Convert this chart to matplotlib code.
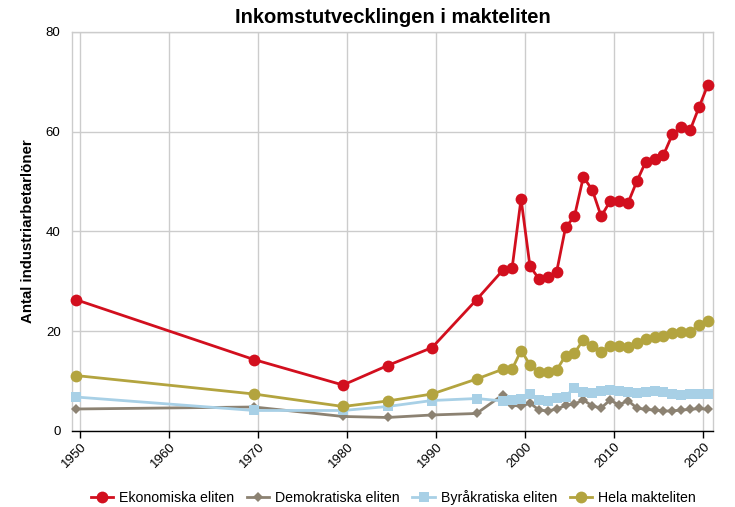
import matplotlib
matplotlib.use("Agg")
import matplotlib.pyplot as plt
from matplotlib.ticker import FixedLocator, FixedFormatter

plt.rcParams['font.family'] = ['Liberation Sans', 'DejaVu Sans']

years = [1950, 1970, 1980, 1985, 1990, 1995, 1998, 1999, 2000, 2001, 2002, 2003,
         2004, 2005, 2006, 2007, 2008, 2009, 2010, 2011, 2012, 2013, 2014, 2015,
         2016, 2017, 2018, 2019, 2020, 2021]

ekonomiska = [26.3, 14.3, 9.2, 13.1, 16.7, 26.3, 32.3, 32.7, 46.5, 33.0, 30.5, 30.9,
              31.9, 40.8, 43.0, 50.9, 48.3, 43.0, 46.0, 46.0, 45.6, 50.0, 53.9, 54.4,
              55.3, 59.4, 60.9, 60.3, 64.9, 69.4]
demokratiska = [4.4, 4.8, 2.9, 2.7, 3.2, 3.5, 7.3, 5.2, 4.9, 5.6, 4.2, 4.0,
                4.4, 5.1, 5.4, 6.2, 5.0, 4.6, 6.2, 5.2, 6.1, 4.6, 4.3, 4.2,
                4.0, 4.0, 4.2, 4.3, 4.5, 4.3]
byrakratiska = [6.8, 4.1, 4.1, 4.9, 6.1, 6.5, 6.0, 6.2, 6.5, 7.4, 6.2, 6.0,
                6.7, 6.9, 8.7, 7.8, 7.6, 8.0, 8.2, 8.0, 7.9, 7.6, 7.9, 8.0,
                7.9, 7.4, 7.3, 7.4, 7.4, 7.4]
hela = [11.1, 7.4, 4.9, 6.0, 7.4, 10.4, 12.4, 12.4, 16.1, 13.3, 11.8, 11.8,
        12.2, 15.1, 15.6, 18.3, 17.1, 15.9, 17.1, 17.1, 16.9, 17.6, 18.5, 18.8,
        19.1, 19.6, 19.9, 19.8, 21.3, 22.1]

series_names = ["Ekonomiska eliten", "Demokratiska eliten", "Byråkratiska eliten", "Hela makteliten"]
tick_years = [1950, 1960, 1970, 1980, 1990, 2000, 2010, 2020]
y_ticks = [0, 20, 40, 60, 80]

fig = plt.figure(figsize=(7.35, 5.07), dpi=100)
ax = fig.add_axes([0.0976, 0.15, 0.9705 - 0.0976, 0.9375 - 0.15])

styles = [
    dict(color="#d20f1e", marker="o", markersize=8.5),
    dict(color="#8c8272", marker="D", markersize=5.5),
    dict(color="#a8d0e6", marker="s", markersize=7.5),
    dict(color="#b3a43f", marker="o", markersize=8.5),
]
data = [ekonomiska, demokratiska, byrakratiska, hela]
for name, vals, st in zip(series_names, data, styles):
    ax.plot(years, vals, label=name, linewidth=2.0, color=st["color"],
            marker=st["marker"], markersize=st["markersize"],
            markeredgewidth=0, clip_on=False, zorder=3)

ax.set_xlim(1949.52, 2021.6)
ax.set_ylim(0, 80)

# tick positions: category boundaries sit half a year after the point positions
ax.xaxis.set_major_locator(FixedLocator([y + 0.48 for y in tick_years]))
ax.xaxis.set_major_formatter(FixedFormatter([str(y) for y in tick_years]))
ax.set_yticks(y_ticks)

ax.grid(True, color="#cccccc", linewidth=1.0, zorder=0)
ax.set_axisbelow(True)
for s in ["top", "right", "left"]:
    ax.spines[s].set_color("#cccccc")
    ax.spines[s].set_linewidth(1.0)
ax.spines["bottom"].set_color("#000000")
ax.spines["bottom"].set_linewidth(1.0)

ax.tick_params(axis="x", direction="out", length=5, width=1, color="#000000",
               labelsize=9.5, pad=2)
ax.tick_params(axis="y", length=0, labelsize=9.5, pad=8)
for lab in ax.get_xticklabels():
    lab.set_rotation(45)
    lab.set_ha("right")
    lab.set_va("top")
    lab.set_rotation_mode("anchor")

ax.set_ylabel("Antal industriarbetarlöner", fontsize=10.8, fontweight="bold", labelpad=8)
ax.set_title("Inkomstutvecklingen i makteliten", fontsize=14.5, fontweight="bold", pad=6)

leg = fig.legend(loc="lower center", bbox_to_anchor=(0.535, -0.015), ncol=4, frameon=False,
                 fontsize=10.2, handlelength=1.6, columnspacing=0.9, handletextpad=0.4,
                 borderaxespad=0.3)

fig.savefig("out.png", dpi=100)
